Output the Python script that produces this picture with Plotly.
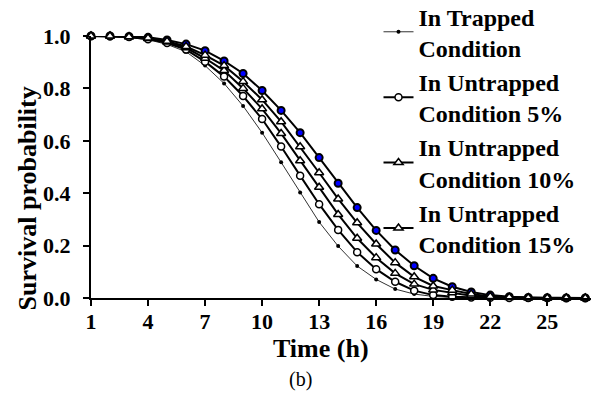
import plotly.graph_objects as go

hours = list(range(1, 28))
trapped = [1.0, 0.999, 0.995, 0.986, 0.968, 0.94, 0.887, 0.819, 0.733, 0.631, 0.518, 0.403, 0.29, 0.198,
           0.122, 0.071, 0.034, 0.015, 0.006, 0.002, 0.001, 0, 0, 0, 0, 0, 0]
untrapped5 = [1.0, 0.999, 0.996, 0.988, 0.973, 0.948, 0.902, 0.845, 0.771, 0.683, 0.578, 0.467, 0.358, 0.26,
              0.175, 0.11, 0.062, 0.028, 0.011, 0.005, 0.002, 0.001, 0, 0, 0, 0, 0]
untrapped10 = [1.0, 1.0, 0.997, 0.99, 0.977, 0.955, 0.915, 0.868, 0.80, 0.722, 0.628, 0.524, 0.423, 0.319,
               0.228, 0.154, 0.094, 0.053, 0.031, 0.02, 0.009, 0.004, 0.002, 0.001, 0, 0, 0]
untrapped15 = [1.0, 1.0, 0.997, 0.992, 0.98, 0.96, 0.927, 0.887, 0.826, 0.757, 0.673, 0.577, 0.478, 0.378,
               0.287, 0.206, 0.135, 0.081, 0.046, 0.03, 0.015, 0.006, 0.003, 0.001, 0, 0, 0]
untrapped20 = [1.0, 1.0, 0.998, 0.995, 0.985, 0.969, 0.944, 0.905, 0.857, 0.792, 0.716, 0.631, 0.536, 0.438,
               0.345, 0.258, 0.183, 0.123, 0.075, 0.043, 0.023, 0.011, 0.005, 0.002, 0.001, 0, 0]

x_ticks = [1, 4, 7, 10, 13, 16, 19, 22, 25]
y_ticks = [0.0, 0.2, 0.4, 0.6, 0.8, 1.0]
y_tick_labels = ["0.0", "0.2", "0.4", "0.6", "0.8", "1.0"]

FONT = "Liberation Serif"

fig = go.Figure()
fig.add_trace(go.Scatter(x=hours, y=untrapped20, mode="lines+markers", showlegend=False,
                         line=dict(color="black", width=2),
                         marker=dict(symbol="circle", size=7, color="#0000ff", line=dict(color="black", width=2)),
                         cliponaxis=False))
fig.add_trace(go.Scatter(x=hours, y=trapped, mode="lines+markers", name="In Trapped<br>Condition",
                         legendgroup="a", legendrank=1,
                         line=dict(color="#333333", width=1),
                         marker=dict(symbol="circle", size=4, color="black"), cliponaxis=False))
fig.add_trace(go.Scatter(x=hours, y=untrapped5, mode="lines+markers", name="In Untrapped<br>Condition 5%",
                         legendgroup="b", legendrank=2,
                         line=dict(color="black", width=2),
                         marker=dict(symbol="circle", size=7, color="white", line=dict(color="black", width=1.5)),
                         cliponaxis=False))
fig.add_trace(go.Scatter(x=hours, y=untrapped10, mode="lines+markers", name="In Untrapped<br>Condition 10%",
                         legendgroup="c", legendrank=3,
                         line=dict(color="black", width=2),
                         marker=dict(symbol="triangle-up", size=8, color="white", line=dict(color="black", width=1.5)),
                         cliponaxis=False))
fig.add_trace(go.Scatter(x=hours, y=untrapped15, mode="lines+markers", name="In Untrapped<br>Condition 15%",
                         legendgroup="d", legendrank=4,
                         line=dict(color="black", width=2),
                         marker=dict(symbol="triangle-up", size=8, color="white", line=dict(color="black", width=1.5)),
                         cliponaxis=False))

fig.update_layout(
    width=597, height=412,
    margin=dict(l=91, r=6, t=36, b=114, autoexpand=False),
    paper_bgcolor="white", plot_bgcolor="white",
    font=dict(family=FONT, color="black"),
    legend=dict(x=0.575, y=1.16, xanchor="left", yanchor="top",
                font=dict(family=FONT, size=24, color="black", weight="bold"),
                bgcolor="rgba(0,0,0,0)", itemwidth=30, tracegroupgap=0, maxheight=400),
    xaxis=dict(range=[1, 27.3], tickvals=x_ticks, showgrid=False, zeroline=False,
               showline=True, linecolor="black", linewidth=2,
               ticks="outside", ticklen=6, tickwidth=2, tickcolor="black",
               tickfont=dict(family=FONT, size=22, weight="bold"), ticklabelstandoff=-3),
    yaxis=dict(range=[0, 1.0], tickvals=y_ticks, ticktext=y_tick_labels, showgrid=False, zeroline=False,
               showline=True, linecolor="black", linewidth=2,
               ticks="outside", ticklen=6, tickwidth=2, tickcolor="black",
               tickfont=dict(family=FONT, size=22, weight="bold"), ticklabelstandoff=8),
    annotations=[
        dict(text="Time (h)", xref="paper", yref="paper", x=0.46, y=-0.192, xanchor="center", yanchor="middle",
             showarrow=False, font=dict(family=FONT, size=26, weight="bold")),
        dict(text="Survival probability", xref="paper", yref="paper", x=-0.128, y=0.38, textangle=-90,
             xanchor="center", yanchor="middle", showarrow=False, font=dict(family=FONT, size=26, weight="bold")),
        dict(text="(b)", xref="paper", yref="paper", x=0.418, y=-0.31, xanchor="center", yanchor="middle",
             showarrow=False, font=dict(family=FONT, size=20)),
    ],
)

fig.write_html("out.html")
